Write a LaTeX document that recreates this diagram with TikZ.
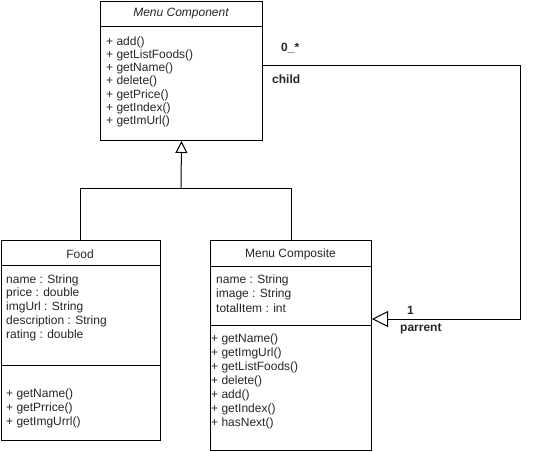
\documentclass[tikz,border=0pt]{standalone}
\usepackage{fontspec}
\setmainfont{Liberation Sans}
\usetikzlibrary{arrows.meta}
\begin{document}
\begin{tikzpicture}[x=1pt,y=-1pt,
  umlbox/.style={draw, line width=1pt, fill=white, anchor=north west, inner sep=0pt},
  txt/.style={font=\fontsize{12}{14}\selectfont, anchor=west, inner sep=0pt, text=black!85},
  hdr/.style={font=\fontsize{12}{14}\selectfont, inner sep=0pt, text=black!85},
  lbl/.style={font=\bfseries\fontsize{12}{14}\selectfont, anchor=west, inner sep=0pt, text=black!85},
  sep/.style={line width=1pt},
  conn/.style={line width=1pt},
  genA/.style={line width=1pt, -{Triangle[open, length=12pt, width=12pt, fill=white]}},
  genB/.style={line width=1pt, -{Triangle[open, length=16pt, width=16pt, fill=white]}}
]
\useasboundingbox (0,0) rectangle (539,451);
% boxes
\node[umlbox, minimum width=162pt, minimum height=139pt] (mc) at (100,1) {};
\node[umlbox, minimum width=159.5pt, minimum height=200pt] (food) at (0.5,240) {};
\node[umlbox, minimum width=161pt, minimum height=210pt] (comp) at (210,240) {};
% separators
\draw[sep] (mc.west |- 0,26) -- (mc.east |- 0,26);
\draw[sep] (food.west |- 0,265) -- (food.east |- 0,265);
\draw[sep] (food.west |- 0,365) -- (food.east |- 0,365);
\draw[sep] (comp.west |- 0,266) -- (comp.east |- 0,266);
\draw[sep] (comp.west |- 0,325) -- (comp.east |- 0,325);
% Menu Component texts
\node[hdr, font=\itshape\fontsize{12}{14}\selectfont] (mct) at (181,14) {Menu Component};
\node[txt] (m1) at (106,42) {+ add()};
\node[txt] (m2) at (106,55) {+ getListFoods()};
\node[txt] (m3) at (106,68.5) {+ getName()};
\node[txt] (m4) at (106,81.5) {+ delete()};
\node[txt] (m5) at (106,95) {+ getPrice()};
\node[txt] (m6) at (106,108) {+ getIndex()};
\node[txt] (m7) at (106,121.5) {+ getImUrl()};
% Food texts
\node[hdr] (ft) at (80,254) {Food};
\node[txt] (f1) at (6,280) {name : String};
\node[txt] (f2) at (6,293.5) {price : double};
\node[txt] (f3) at (6,307.5) {imgUrl : String};
\node[txt] (f4) at (6,321) {description : String};
\node[txt] (f5) at (6,335) {rating : double};
\node[txt] (f6) at (6,394) {+ getName()};
\node[txt] (f7) at (6,408) {+ getPrrice()};
\node[txt] (f8) at (6,422) {+ getImgUrrl()};
% Composite texts
\node[hdr] (ct) at (290.5,254) {Menu Composite};
\node[txt] (c1) at (216,280) {name : String};
\node[txt] (c2) at (216,294) {image : String};
\node[txt] (c3) at (216,308) {totalItem : int};
\node[txt] (c4) at (211,339) {+ getName()};
\node[txt] (c5) at (211,353) {+ getImgUrl()};
\node[txt] (c6) at (211,367) {+ getListFoods()};
\node[txt] (c7) at (211,381.5) {+ delete()};
\node[txt] (c8) at (211,395.5) {+ add()};
\node[txt] (c9) at (211,409.5) {+ getIndex()};
\node[txt] (c10) at (211,423) {+ hasNext()};
% generalization
\coordinate (j) at (181,188);
\draw[conn] (food.north) |- (j);
\draw[conn] (comp.north) |- (j);
\draw[genA] (j) -- (mc.south);
% association
\coordinate (p1) at (520,65);
\coordinate (p2) at (520,319);
\draw[genB] (mc.east |- p1) -- (p1) -- (p2) -- (comp.east |- p2);
% labels
\node[lbl] (l1) at (281,48) {0\_*};
\node[lbl] (l2) at (272,79) {child};
\node[lbl] (l3) at (407,310) {1};
\node[lbl] (l4) at (400,329) {parrent};
\end{tikzpicture}
\end{document}
